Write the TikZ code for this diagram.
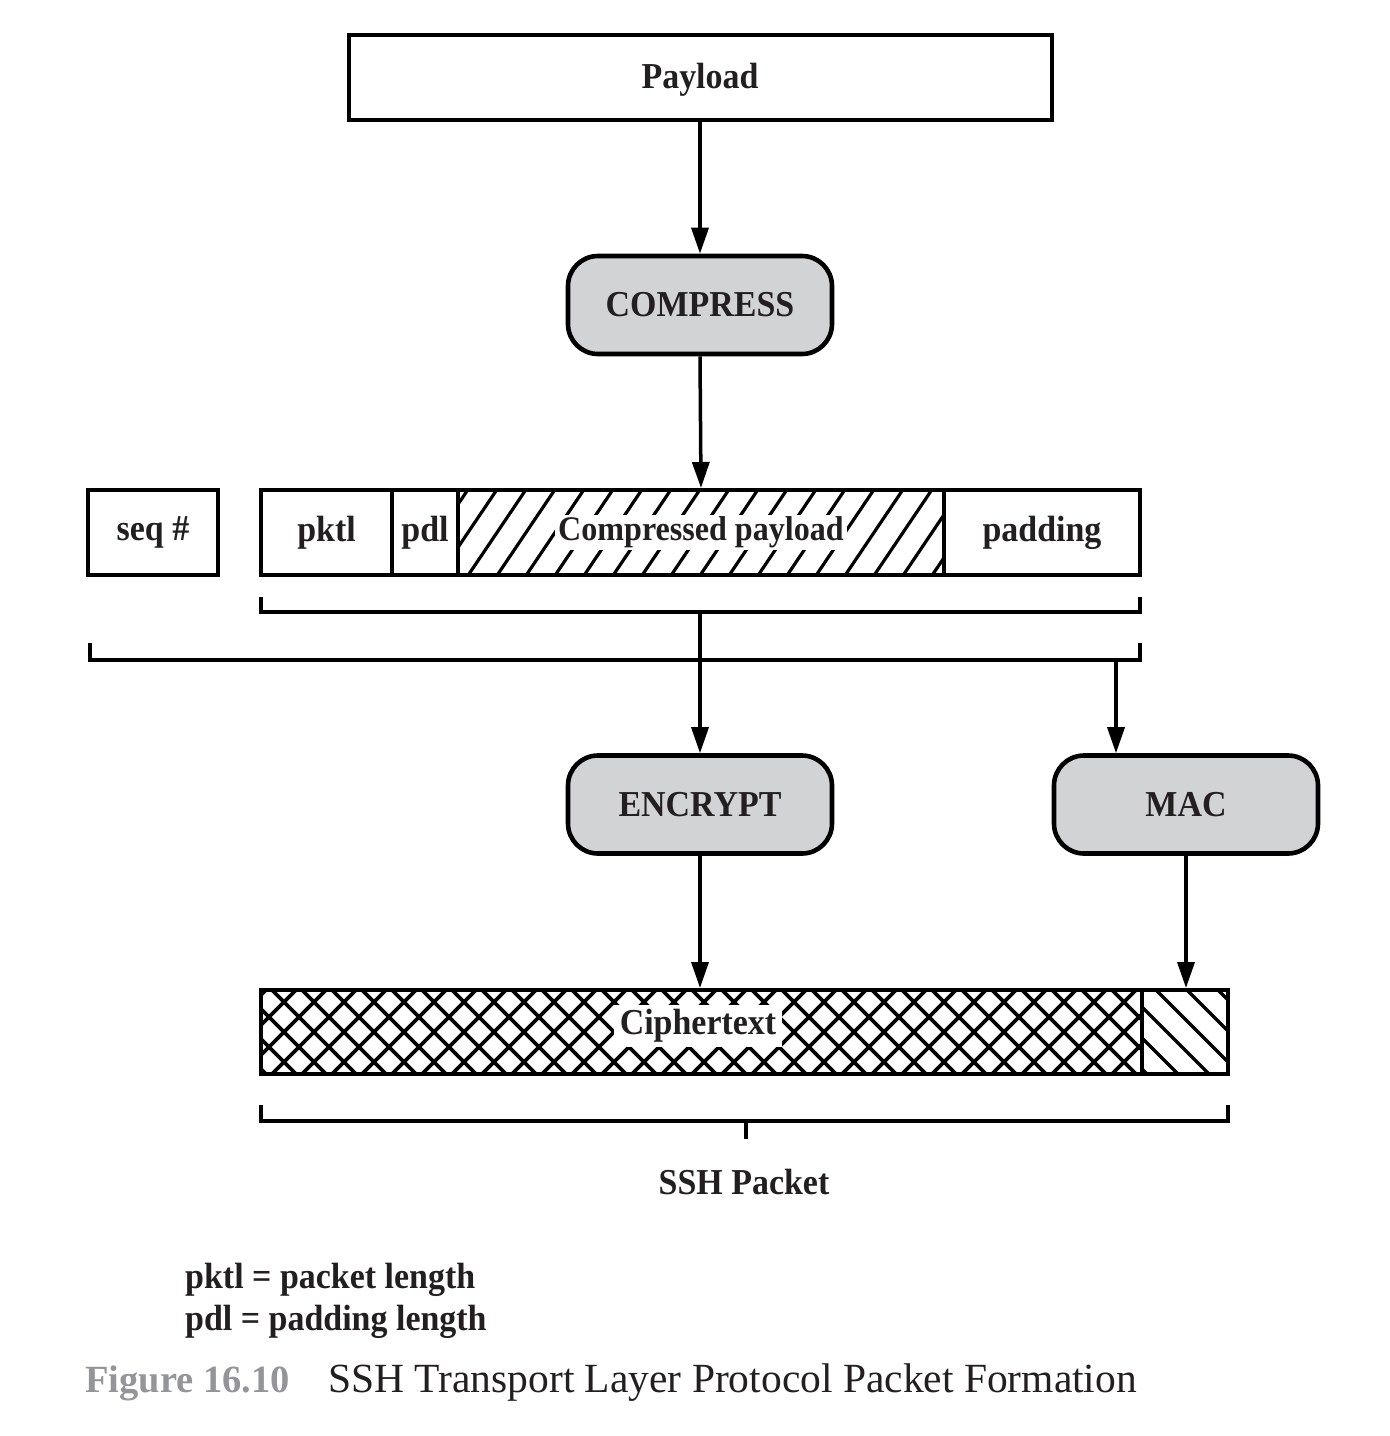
\documentclass[tikz,border=0pt]{standalone}
\usepackage{fontspec}
\setmainfont{Liberation Serif}
\newfontfamily\lblfont[FakeStretch=0.93]{Liberation Serif}
\usetikzlibrary{arrows.meta}
\definecolor{txt}{HTML}{231F20}
\definecolor{procgray}{HTML}{D2D3D5}
\definecolor{figgray}{HTML}{939598}
\begin{document}
\begin{tikzpicture}[x=1pt,y=-1pt,line join=miter,
  lbl/.style={font=\lblfont\fontsize{36.5}{42}\selectfont\bfseries,text=txt},
  box/.style={draw,line width=4pt,inner sep=0pt,lbl},
  cell/.style={draw,line width=4pt,inner sep=0pt,minimum height=85pt},
  proc/.style={draw,line width=4.6pt,fill=procgray,rounded corners=30pt,minimum width=264pt,minimum height=98pt,inner sep=0pt,lbl},
  arr/.style={line width=3.5pt,-{Triangle[length=26pt,width=17pt]}},
  brk/.style={line width=4pt},
  hatch/.style={line width=3.2pt},
  knock/.style={fill=white,inner xsep=3pt,inner ysep=2pt,lbl}]
\useasboundingbox (0,0) rectangle (1390,1436);

% top
\node[box,minimum width=703pt,minimum height=85pt,text depth=4pt] (payload) at (700,77.5) {Payload};
\node[proc] (compress) at (700,305) {COMPRESS};
\draw[arr] (payload.south) -- (compress.north);

% packet row
\node[box,minimum width=130pt,minimum height=85pt] (seq) at (153,532.5) {seq \#};
\node[cell,minimum width=131pt,lbl] (pktl) at (326.5,532.5) {pktl};
\node[cell,minimum width=66pt,lbl] (pdl) at (425,532.5) {pdl};
\node[cell,minimum width=486pt] (cp) at (701,532.5) {};
\node[cell,minimum width=196pt,lbl] (padding) at (1042,532.5) {padding};
\begin{scope}
  \clip (458,490) rectangle (944,575);
  \foreach \x in {380,409,...,960} \draw[hatch] (\x,577) -- ++(60,-89);
\end{scope}
\node[knock,font=\lblfont\fontsize{34.5}{40}\selectfont\bfseries] (cptext) at (cp) {Compressed payload};
\node[cell,minimum width=486pt] (cpborder) at (cp) {};
\draw[arr] (compress.south) -- (cp.north);

% brackets
\coordinate (b1l) at (261,597);
\coordinate (b1r) at (1140,597);
\coordinate (b1m) at (700,612);
\draw[brk] (b1l) -- (261,612) -- (1140,612) -- (b1r);
\coordinate (b2l) at (90,643);
\coordinate (b2r) at (1140,643);
\coordinate (b2m) at (1116,660);
\draw[brk] (b2l) -- (90,660) -- (1140,660) -- (b2r);

% processes
\node[proc] (encrypt) at (700,804.5) {ENCRYPT};
\node[proc] (mac) at (1186,804.5) {MAC};
\draw[arr] (b1m) -- (encrypt.north);
\draw[arr] (b2m) -- (b2m |- mac.north);

% ciphertext row
\node[cell,minimum width=881pt,minimum height=84pt] (cipher) at (701.5,1032) {};
\node[cell,minimum width=86pt,minimum height=84pt] (mactag) at (1185,1032) {};
\begin{scope}
  \clip (261,990) rectangle (1142,1074);
  \foreach \x in {150,180,...,1150} {
    \draw[hatch,line width=3.8pt] (\x,1076) -- ++(88,-88);
    \draw[hatch,line width=3.8pt] (\x,988) -- ++(88,88);
  }
\end{scope}
\begin{scope}
  \clip (1142,990) rectangle (1228,1074);
  \foreach \x in {1030,1061,...,1230} \draw[hatch] (\x,988) -- ++(88,88);
\end{scope}
\node[knock,inner xsep=6pt,inner ysep=4pt] (ctext) at (698,1026) {Ciphertext};
\node[cell,minimum width=881pt,minimum height=84pt] (cipherborder) at (cipher) {};
\node[cell,minimum width=86pt,minimum height=84pt] (mactagborder) at (mactag) {};
\draw[arr] (encrypt.south) -- (encrypt.south |- cipher.north);
\draw[arr] (mac.south) -- (mac.south |- mactag.north);

% SSH packet bracket
\coordinate (b3l) at (261,1105);
\coordinate (b3r) at (1228,1105);
\coordinate (b3m) at (746,1121);
\coordinate (b3t) at (746,1139);
\draw[brk] (b3l) -- (261,1121) -- (1228,1121) -- (b3r);
\draw[brk] (b3m) -- (b3t);
\node[lbl] (ssh) at (744,1182) {SSH Packet};

% legend
\node[lbl,anchor=base west,inner sep=0pt] (leg1) at (185,1288) {pktl = packet length};
\node[lbl,anchor=base west,inner sep=0pt] (leg2) at (185,1330) {pdl = padding length};

% caption
\node[anchor=base west,inner sep=0pt,font=\fontsize{38.5}{46}\selectfont\bfseries,text=figgray] (fig) at (85,1392) {Figure 16.10};
\node[anchor=base west,inner sep=0pt,font=\fontsize{41.5}{48}\selectfont,text=txt] (cap) at (328,1392) {SSH Transport Layer Protocol Packet Formation};
\end{tikzpicture}
\end{document}
